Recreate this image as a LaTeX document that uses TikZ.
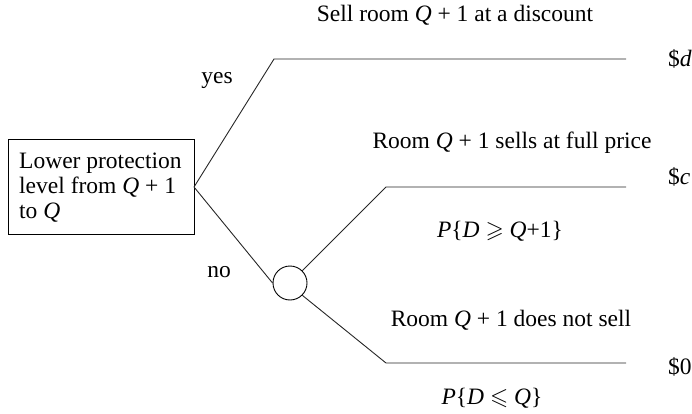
\documentclass[tikz,border=0pt]{standalone}
\usepackage{amssymb}
\usepackage{fontspec}
\setmainfont{Liberation Serif}
\begin{document}
\begin{tikzpicture}[x=1pt,y=-1pt,
  lbl/.style={inner sep=0pt,font=\fontsize{23.5}{25}\selectfont},
  branch/.style={line width=0.9pt,black!85}]
\useasboundingbox (0,0) rectangle (692,414);
% decision box
\node[draw,line width=0.9pt,minimum width=186,minimum height=95,inner sep=0pt] (box) at (101,186.5) {};
\node[lbl,align=left,anchor=west] (boxtxt) at (19,188) {Lower protection\\level from \textit{Q} + 1\\to \textit{Q}};
% chance node
\node[draw,circle,line width=0.9pt,minimum size=34,inner sep=0pt] (chance) at (290,283) {};
% coordinates
\coordinate (apex) at (194,187);
\coordinate (y0) at (274,59);
\coordinate (y1) at (626,59);
\coordinate (c0) at (386,187);
\coordinate (c1) at (626,187);
\coordinate (z0) at (386,363);
\coordinate (z1) at (626,363);
% branches
\draw[branch] (apex) -- (y0) -- (y1);
\draw[branch] (apex) -- (chance.west);
\draw[branch] (chance.45) -- (c0) -- (c1);
\draw[branch] (chance.-45) -- (z0) -- (z1);
% labels
\node[lbl] (t1) at (455,15) {Sell room \textit{Q} + 1 at a discount};
\node[lbl] (yes) at (217,81) {yes};
\node[lbl] (no) at (219,272) {no};
\node[lbl] (t2) at (512,143) {Room \textit{Q} + 1 sells at full price};
\node[lbl] (p1) at (500,231) {\textit{P}\{\textit{D} $\geqslant$ \textit{Q}+1\}};
\node[lbl] (t3) at (511,320) {Room \textit{Q} + 1 does not sell};
\node[lbl] (p2) at (492,398) {\textit{P}\{\textit{D} $\leqslant$ \textit{Q}\}};
\node[lbl,anchor=west] (vd) at (668,59) {\$\textit{d}};
\node[lbl,anchor=west] (vc) at (668,177) {\$\textit{c}};
\node[lbl,anchor=west] (v0) at (668,367) {\$0};
\end{tikzpicture}
\end{document}
